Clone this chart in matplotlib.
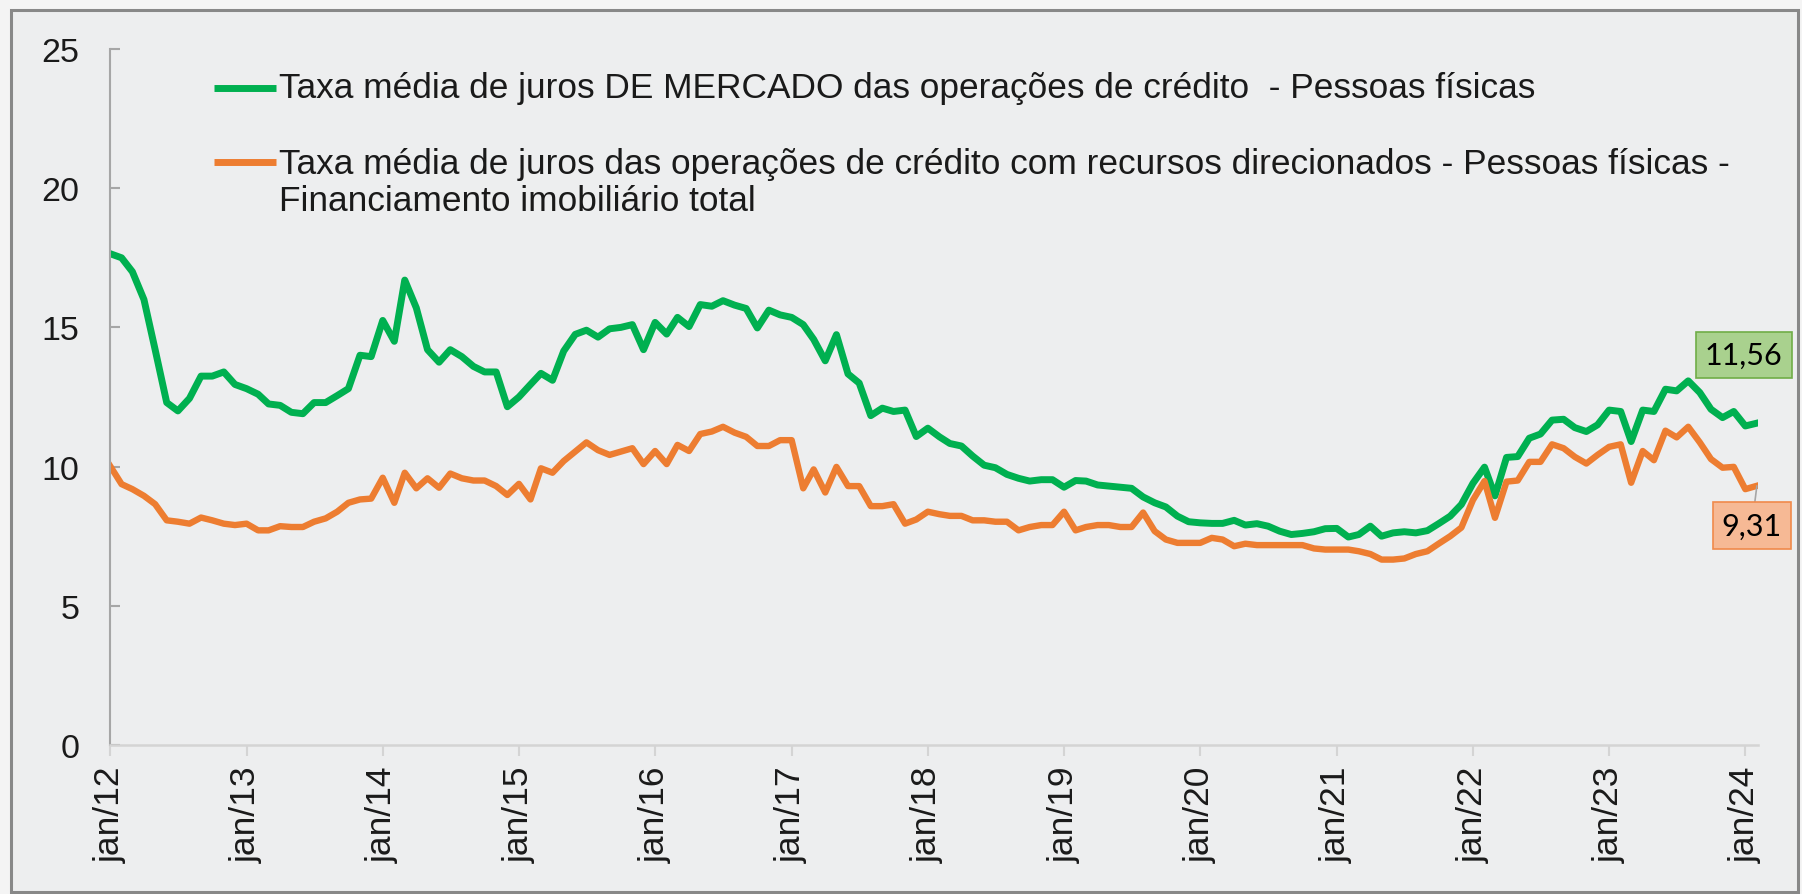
import matplotlib.pyplot as plt
import pandas as pd
from matplotlib.patches import Rectangle

# monthly series, jan/2012 .. feb/2024
months = pd.date_range("2012-01-01", periods=146, freq="MS")

mercado = [
    17.65, 17.5, 17.0, 16.0, 14.2, 12.3, 12.0, 12.45, 13.25, 13.25, 13.4, 12.95,
    12.8, 12.6, 12.25, 12.2, 11.95, 11.9, 12.3, 12.3, 12.55, 12.8, 14.0, 13.95,
    15.25, 14.5, 16.7, 15.7, 14.2, 13.75, 14.2, 13.95, 13.6, 13.4, 13.4, 12.15,
    12.5, 12.95, 13.35, 13.1, 14.15, 14.75, 14.9, 14.65, 14.95, 15.0, 15.1, 14.2,
    15.18, 14.76, 15.36, 15.03, 15.82, 15.76, 15.96, 15.8, 15.68, 14.98, 15.62, 15.45,
    15.36, 15.1, 14.57, 13.8, 14.74, 13.33, 13.0, 11.83, 12.1, 11.98, 12.03, 11.08,
    11.38, 11.07, 10.83, 10.74, 10.38, 10.05, 9.96, 9.72, 9.58, 9.48, 9.53, 9.53,
    9.26, 9.5, 9.48, 9.34, 9.3, 9.26, 9.22, 8.91, 8.7, 8.55, 8.22, 8.02,
    7.98, 7.96, 7.96, 8.07, 7.9, 7.95, 7.86, 7.68, 7.56, 7.6, 7.66, 7.77,
    7.78, 7.47, 7.56, 7.86, 7.5, 7.62, 7.66, 7.62, 7.7, 7.95, 8.22, 8.64,
    9.4, 9.98, 8.95, 10.33, 10.36, 11.02, 11.17, 11.67, 11.7, 11.4, 11.26, 11.5,
    12.03, 11.98, 10.9, 12.03, 11.98, 12.78, 12.72, 13.08, 12.66, 12.06, 11.76, 11.98,
    11.46, 11.56,
]

imobiliario = [
    10.03, 9.37, 9.19, 8.95, 8.65, 8.07, 8.02, 7.95, 8.17, 8.07, 7.95, 7.9,
    7.95, 7.71, 7.71, 7.86, 7.83, 7.83, 8.02, 8.14, 8.38, 8.7, 8.82, 8.85,
    9.6, 8.7, 9.78, 9.22, 9.58, 9.24, 9.75, 9.58, 9.5, 9.5, 9.3, 8.98,
    9.38, 8.82, 9.94, 9.78, 10.2, 10.54, 10.87, 10.59, 10.42, 10.54, 10.66, 10.09,
    10.56, 10.09, 10.78, 10.56, 11.17, 11.26, 11.43, 11.22, 11.07, 10.74, 10.74, 10.95,
    10.95, 9.22, 9.9, 9.07, 9.99, 9.3, 9.3, 8.58, 8.58, 8.65, 7.95, 8.1,
    8.38, 8.29, 8.23, 8.23, 8.07, 8.07, 8.02, 8.02, 7.71, 7.83, 7.9, 7.9,
    8.38, 7.71, 7.83, 7.9, 7.9, 7.83, 7.83, 8.35, 7.68, 7.38, 7.26, 7.26,
    7.26, 7.44, 7.38, 7.14, 7.23, 7.18, 7.18, 7.18, 7.18, 7.18, 7.06, 7.02,
    7.02, 7.02, 6.96, 6.86, 6.66, 6.66, 6.7, 6.86, 6.96, 7.23, 7.5, 7.81,
    8.8, 9.48, 8.16, 9.46, 9.5, 10.17, 10.17, 10.8, 10.66, 10.35, 10.11, 10.42,
    10.71, 10.8, 9.42, 10.56, 10.23, 11.29, 11.05, 11.43, 10.87, 10.27, 9.96, 9.99,
    9.19, 9.31,
]

label_mercado = "Taxa média de juros DE MERCADO das operações de crédito  - Pessoas físicas"
label_imob = ("Taxa média de juros das operações de crédito com recursos direcionados - Pessoas físicas -\n"
              "Financiamento imobiliário total")

year_ticks = months[::12]
year_labels = ["jan/%02d" % (d.year % 100) for d in year_ticks]

green = "#00B050"
orange = "#ED7D31"
txt = "#1a1a1a"

plt.rcParams["font.family"] = ["Liberation Sans", "DejaVu Sans"]

fig = plt.figure(figsize=(18.02, 8.95), dpi=100, facecolor="#F4F4F4")
fig.patches.append(Rectangle((11 / 1802, 2 / 895), 1787 / 1802, 882 / 895,
                             transform=fig.transFigure, facecolor="#EDEEEF",
                             edgecolor="#888888", lw=2.2, zorder=-10))

ax = fig.add_axes([110 / 1802, 1 - 746 / 895, 1648 / 1802, 696 / 895])
ax.set_facecolor("none")

ax.plot(months, mercado, color=green, lw=5, solid_joinstyle="round")
ax.plot(months, imobiliario, color=orange, lw=4.6, solid_joinstyle="round")

ax.set_ylim(0, 25)
ax.set_yticks(range(0, 26, 5))
ax.set_xlim(months[0], months[-1] + pd.Timedelta(days=3))
ax.set_xticks(year_ticks)
ax.set_xticklabels(year_labels, rotation=90)

for s in ["top", "right"]:
    ax.spines[s].set_visible(False)
ax.spines["left"].set_color("#A6A6A6")
ax.spines["left"].set_linewidth(1.5)
ax.spines["bottom"].set_color("#D4D4D4")
ax.spines["bottom"].set_linewidth(1.8)
ax.tick_params(axis="y", direction="in", length=7, width=1.5, color="#A6A6A6",
               pad=22, labelsize=24.5, labelcolor=txt)
ax.tick_params(axis="x", direction="out", length=8, width=1.5, color="#D4D4D4",
               pad=7, labelsize=25.5, labelcolor=txt)

# legend drawn by hand so the orange key sits on the first text row
ax.plot([0.0631, 0.1007], [0.944, 0.944], transform=ax.transAxes, color=green,
        lw=5, solid_capstyle="butt", clip_on=False)
ax.text(0.1025, 0.944, label_mercado, transform=ax.transAxes, va="center",
        ha="left", fontsize=25.4, color=txt)
ax.plot([0.0631, 0.1007], [0.8376, 0.8376], transform=ax.transAxes, color=orange,
        lw=5, solid_capstyle="butt", clip_on=False)
ax.text(0.1025, 0.809, label_imob, transform=ax.transAxes, va="center",
        ha="left", fontsize=25.4, color=txt, linespacing=1.13)

# end-of-series value labels
ax.annotate(f"{mercado[-1]:.2f}".replace(".", ","), xy=(months[-1], mercado[-1]),
            xytext=(-9.4, 49), textcoords="offset points", ha="center", va="center",
            fontsize=22, family="Lato", color="black", annotation_clip=False,
            bbox=dict(boxstyle="square,pad=0.3", fc="#A9D18E", ec="#70AD47", lw=1.2))
ax.annotate(f"{imobiliario[-1]:.2f}".replace(".", ","), xy=(months[-1], imobiliario[-1]),
            xytext=(-3.6, -28.6), textcoords="offset points", ha="center", va="center",
            fontsize=22, family="Lato", color="black", annotation_clip=False,
            bbox=dict(boxstyle="square,pad=0.3", fc="#F6B995", ec="#F08A4B", lw=1.2),
            arrowprops=dict(arrowstyle="-", color="#A6A6A6", lw=1.2,
                            shrinkA=0, shrinkB=0))

fig.savefig("out.png", dpi=100, facecolor=fig.get_facecolor())
